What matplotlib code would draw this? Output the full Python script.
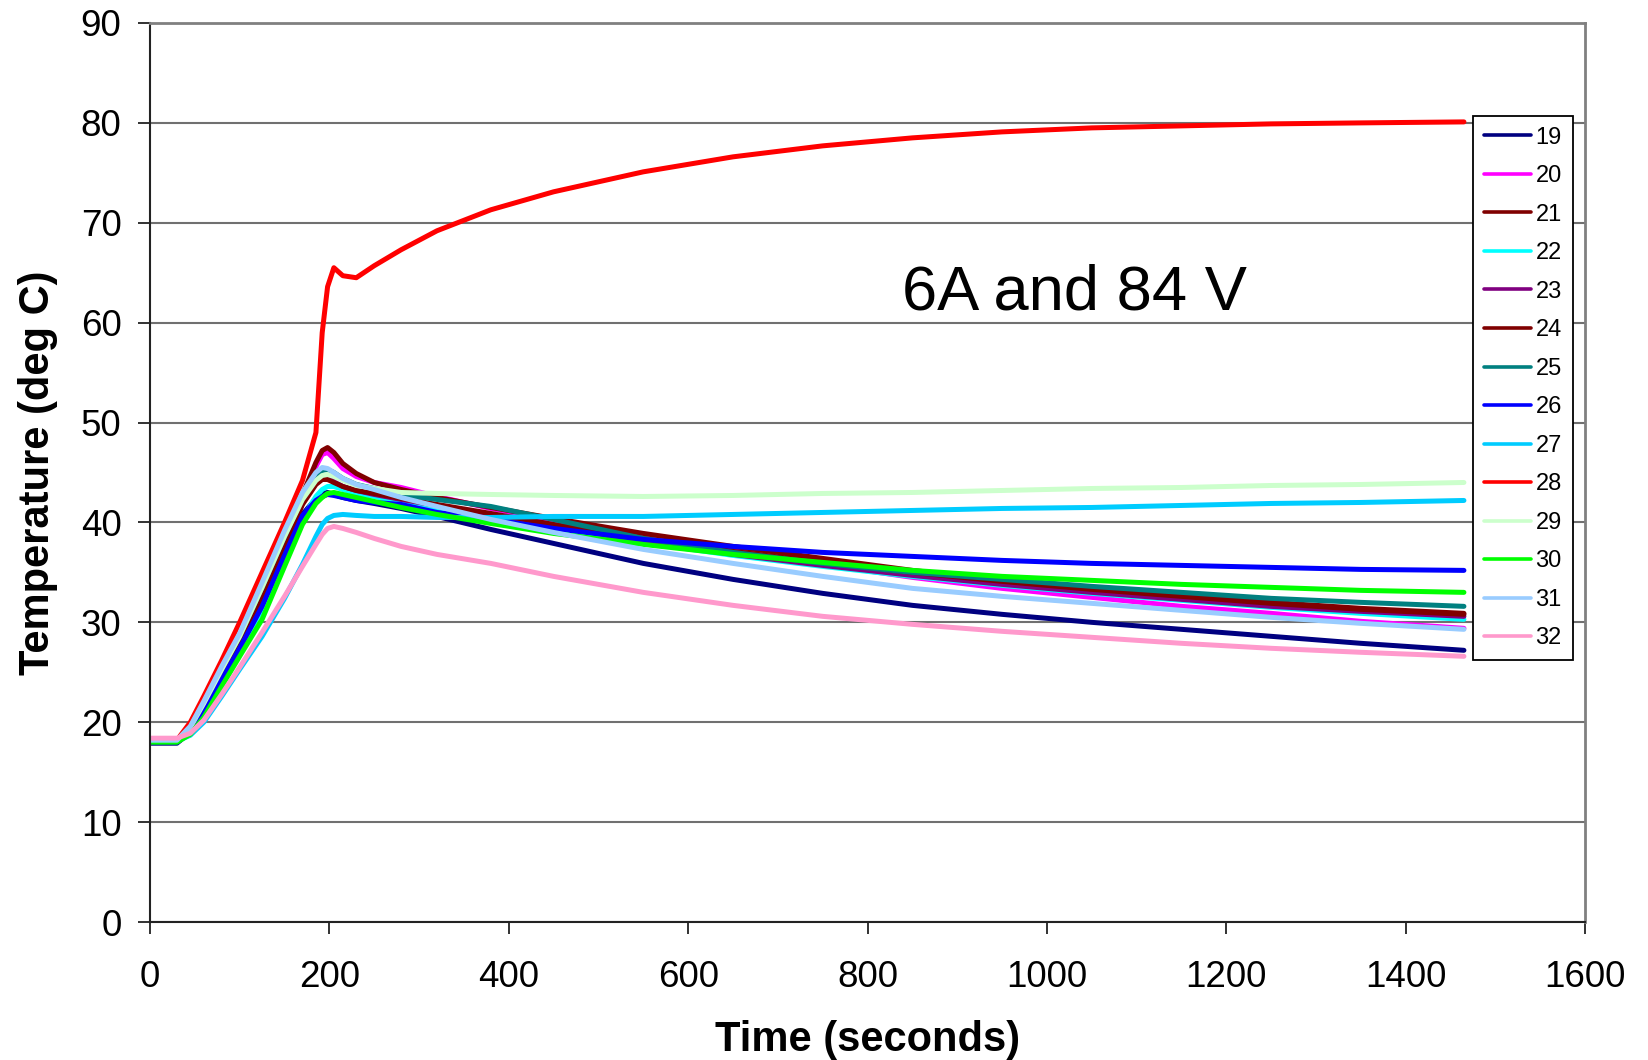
import numpy as np
import matplotlib.pyplot as plt

plt.rcParams['font.family'] = ['Liberation Sans', 'DejaVu Sans']

# time stamps (s) at which the traces were read
t_s = [0, 30, 45, 60, 80, 100, 125, 150, 170, 185, 192, 198, 205, 215, 230,
       250, 280, 320, 380, 450, 550, 650, 750, 850, 950, 1050, 1150, 1250, 1350, 1465]

ch19 = [17.9, 17.9, 19.0, 21.2, 24.3, 27.5, 31.8, 36.9, 40.8, 42.4, 42.9, 43.0, 42.8, 42.5, 42.2,
        41.9, 41.4, 40.6, 39.3, 37.9, 35.9, 34.3, 32.9, 31.7, 30.8, 30.0, 29.3, 28.6, 27.9, 27.2]
ch20 = [18.1, 18.1, 19.4, 21.7, 25.0, 28.3, 33.0, 38.2, 42.5, 45.6, 46.8, 47.0, 46.4, 45.4, 44.6,
        44.0, 43.5, 42.6, 41.4, 40.2, 38.7, 37.2, 35.8, 34.5, 33.4, 32.5, 31.6, 30.9, 30.1, 29.4]
ch21 = [18.1, 18.1, 19.4, 21.7, 25.0, 28.3, 33.1, 38.4, 42.8, 46.0, 47.2, 47.5, 47.0, 45.9, 44.9,
        44.0, 43.3, 42.5, 41.5, 40.4, 38.9, 37.6, 36.4, 35.2, 34.2, 33.4, 32.7, 32.0, 31.4, 30.9]
ch22 = [18.1, 18.1, 19.1, 21.1, 24.2, 27.2, 31.3, 36.3, 40.4, 42.6, 43.3, 43.6, 43.6, 43.3, 42.9,
        42.6, 42.0, 41.4, 40.5, 39.4, 38.0, 36.7, 35.6, 34.6, 33.7, 32.9, 32.2, 31.5, 30.9, 30.3]
ch23 = [18.1, 18.1, 19.3, 21.5, 24.7, 27.9, 32.4, 37.6, 41.9, 44.0, 44.5, 44.4, 44.1, 43.6, 43.2,
        42.8, 42.3, 41.7, 40.8, 39.6, 38.1, 36.8, 35.7, 34.7, 33.8, 33.0, 32.3, 31.6, 31.1, 30.6]
ch24 = [18.1, 18.1, 19.3, 21.5, 24.7, 27.9, 32.4, 37.6, 41.8, 43.8, 44.3, 44.3, 44.0, 43.6, 43.2,
        42.9, 42.4, 41.8, 40.9, 39.8, 38.4, 37.1, 36.0, 35.0, 34.1, 33.3, 32.6, 31.9, 31.3, 30.8]
ch25 = [18.1, 18.1, 19.5, 21.9, 25.3, 28.6, 33.5, 38.6, 42.5, 44.6, 45.2, 45.3, 45.0, 44.4, 43.8,
        43.4, 42.8, 42.3, 41.6, 40.3, 38.4, 37.0, 35.9, 35.0, 34.3, 33.6, 33.0, 32.4, 32.0, 31.6]
ch26 = [18.0, 18.0, 19.0, 21.2, 24.3, 27.4, 31.6, 36.7, 40.7, 42.2, 42.6, 42.8, 42.7, 42.5, 42.2,
        42.0, 41.8, 41.0, 40.3, 39.4, 38.3, 37.6, 37.0, 36.6, 36.2, 35.9, 35.7, 35.5, 35.3, 35.2]
ch27 = [18.1, 18.1, 18.7, 20.0, 22.6, 25.3, 28.6, 32.4, 35.8, 38.6, 39.8, 40.4, 40.7, 40.8, 40.7,
        40.6, 40.6, 40.5, 40.5, 40.6, 40.6, 40.8, 41.0, 41.2, 41.4, 41.5, 41.7, 41.9, 42.0, 42.2]
ch28 = [18.2, 18.2, 20.0, 22.6, 26.2, 30.0, 35.0, 40.0, 44.2, 49.0, 59.0, 63.6, 65.5, 64.7, 64.5,
        65.7, 67.3, 69.2, 71.3, 73.1, 75.1, 76.6, 77.7, 78.5, 79.1, 79.5, 79.7, 79.9, 80.0, 80.1]
ch29 = [18.1, 18.1, 19.5, 21.9, 25.3, 28.6, 33.5, 38.6, 42.3, 44.2, 44.7, 44.8, 44.6, 44.2, 43.7,
        43.4, 43.0, 42.9, 42.8, 42.7, 42.6, 42.7, 42.9, 43.0, 43.2, 43.4, 43.5, 43.7, 43.8, 44.0]
ch30 = [18.0, 18.0, 18.8, 20.5, 23.6, 26.6, 30.3, 35.6, 39.8, 41.9, 42.5, 42.9, 43.0, 42.8, 42.5,
        42.1, 41.5, 40.8, 39.9, 38.9, 37.8, 36.8, 36.0, 35.2, 34.6, 34.2, 33.8, 33.5, 33.2, 33.0]
ch31 = [18.2, 18.2, 19.6, 22.1, 25.6, 28.9, 34.0, 39.2, 43.0, 45.0, 45.5, 45.4, 45.0, 44.4, 43.8,
        43.3, 42.5, 41.6, 40.3, 39.0, 37.3, 35.9, 34.6, 33.4, 32.6, 31.9, 31.2, 30.5, 29.9, 29.3]
ch32 = [18.4, 18.4, 18.9, 20.2, 22.8, 25.5, 29.0, 32.6, 35.6, 37.8, 38.8, 39.4, 39.6, 39.4, 39.0,
        38.4, 37.6, 36.8, 35.9, 34.6, 33.0, 31.7, 30.6, 29.8, 29.1, 28.5, 27.9, 27.4, 27.0, 26.6]

names = ["19", "20", "21", "22", "23", "24", "25", "26", "27", "28", "29", "30", "31", "32"]
series = [ch19, ch20, ch21, ch22, ch23, ch24, ch25, ch26, ch27, ch28, ch29, ch30, ch31, ch32]
colors = ["#000080", "#FF00FF", "#800000", "#00FFFF", "#800080", "#800000", "#008080",
          "#0000FF", "#00CCFF", "#FF0000", "#CCFFCC", "#00FF00", "#99CCFF", "#FF99CC"]

fig = plt.figure(figsize=(16.48, 10.60), dpi=100)
ax = fig.add_axes([150 / 1648, 1 - 922 / 1060, 1435 / 1648, 899 / 1060])

for name, vals, c in zip(names, series, colors):
    ax.plot(t_s, vals, color=c, lw=3.6, label=name,
            solid_capstyle="round", solid_joinstyle="round")

ax.set_xlim(0, 1600)
ax.set_ylim(0, 90)
ax.set_xticks(np.arange(0, 1601, 200))
ax.set_yticks(np.arange(0, 91, 10))
ax.yaxis.grid(True, color="#707070", lw=1.5)
ax.set_axisbelow(True)

for side in ["top", "right"]:
    ax.spines[side].set_color("#808080")
    ax.spines[side].set_linewidth(2)
for side in ["left", "bottom"]:
    ax.spines[side].set_color("#222222")
    ax.spines[side].set_linewidth(1.5)

ax.tick_params(axis="both", direction="out", length=8.6, width=1.3, color="#222222",
               labelsize=26.5)
ax.tick_params(axis="x", pad=19)
ax.tick_params(axis="y", pad=12)

ax.set_xlabel("Time (seconds)", fontsize=30, fontweight="bold", labelpad=18)
ax.set_ylabel("Temperature (deg C)", fontsize=30, fontweight="bold", labelpad=16)

ax.text(838, 61.3, "6A and 84 V", fontsize=45.5, ha="left", va="baseline")

leg = ax.legend(loc="upper left", bbox_to_anchor=(1473 / 1648, 1 - 116 / 1060),
                bbox_transform=fig.transFigure, borderaxespad=0, fontsize=17,
                frameon=True, fancybox=False, edgecolor="black", framealpha=1,
                handlelength=2.0, handletextpad=0.2, labelspacing=0.7,
                borderpad=0.45)
leg.get_frame().set_linewidth(1.3)
for line in leg.get_lines():
    line.set_linewidth(2.6)

fig.savefig("out.png", dpi=100)
